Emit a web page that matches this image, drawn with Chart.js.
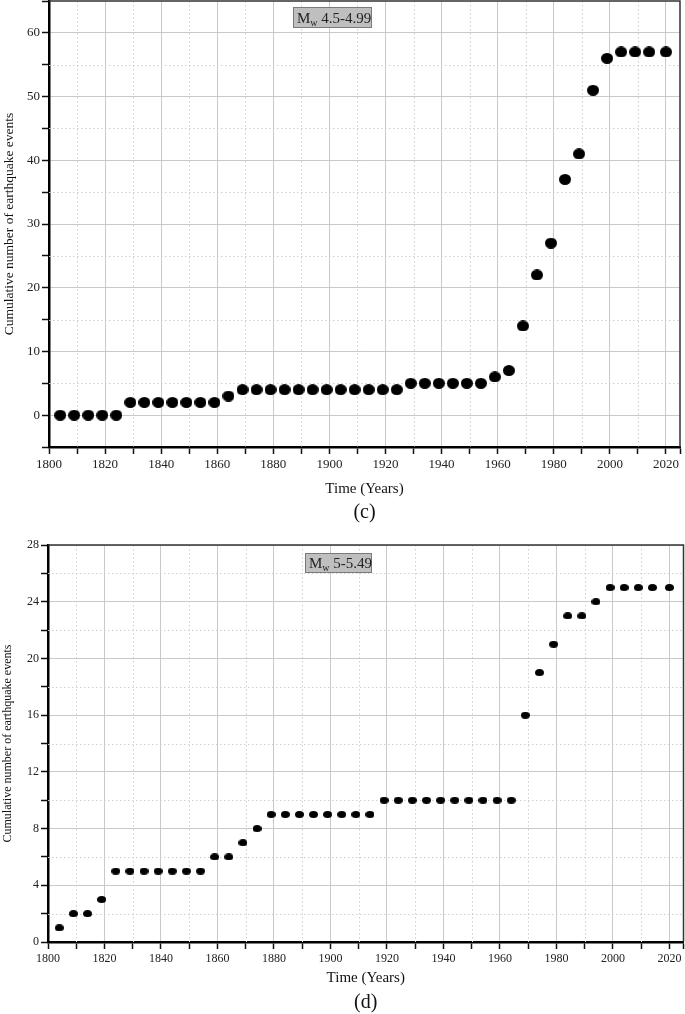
<!DOCTYPE html>
<html>
<head>
<meta charset="utf-8">
<script src="https://cdn.jsdelivr.net/npm/chart.js@4.4.1/dist/chart.umd.min.js"></script>
<style>
  html, body { margin: 0; padding: 0; background: #fff; overflow: hidden; width: 685px; height: 1014px; }
  canvas { position: absolute; left: 0; }
  #chart-c { top: -5px; }
  #chart-d { top: 535px; }
</style>
</head>
<body>
<canvas id="chart-c" width="686" height="535"></canvas>
<canvas id="chart-d" width="688" height="479"></canvas>
<script>
// years of the plotted points (same for both panels)
const years = [1804, 1809, 1814, 1819, 1824, 1829, 1834, 1839, 1844, 1849, 1854, 1859, 1864, 1869, 1874,
  1879, 1884, 1889, 1894, 1899, 1904, 1909, 1914, 1919, 1924, 1929, 1934, 1939, 1944, 1949, 1954,
  1959, 1964, 1969, 1974, 1979, 1984, 1989, 1994, 1999, 2004, 2009, 2014, 2020];

// (c) Mw 4.5-4.99
const eventsC = [0, 0, 0, 0, 0, 2, 2, 2, 2, 2, 2, 2, 3, 4, 4,
  4, 4, 4, 4, 4, 4, 4, 4, 4, 4, 5, 5, 5, 5, 5, 5,
  6, 7, 14, 22, 27, 37, 41, 51, 56, 57, 57, 57, 57];

// (d) Mw 5-5.49
const eventsD = [1, 2, 2, 3, 5, 5, 5, 5, 5, 5, 5, 6, 6, 7, 8,
  9, 9, 9, 9, 9, 9, 9, 9, 10, 10, 10, 10, 10, 10, 10, 10,
  10, 10, 16, 19, 21, 23, 23, 24, 25, 25, 25, 25, 25];

const xTicks = [1800, 1810, 1820, 1830, 1840, 1850, 1860, 1870, 1880, 1890, 1900, 1910,
  1920, 1930, 1940, 1950, 1960, 1970, 1980, 1990, 2000, 2010, 2020, 2025];
const yTicksC = [-5, 0, 5, 10, 15, 20, 25, 30, 35, 40, 45, 50, 55, 60, 65];
const yTicksD = [0, 2, 4, 6, 8, 10, 12, 14, 16, 18, 20, 22, 24, 26, 28];

const SERIF = '"Liberation Serif", "Times New Roman", serif';

function ellipse(w, h) {
  const c = document.createElement('canvas');
  c.width = w; c.height = h;
  const g = c.getContext('2d');
  g.fillStyle = '#000';
  g.beginPath();
  g.ellipse(w / 2, h / 2, w / 2, h / 2, 0, 0, Math.PI * 2);
  g.fill();
  return c;
}

function noPad(s) {
  s.paddingTop = 0; s.paddingBottom = 0; s.paddingLeft = 0; s.paddingRight = 0;
}

// dotted minor grid + thin top/right frame
const minorGrid = {
  id: 'minorGrid',
  beforeDatasetsDraw(chart, args, opts) {
    const { ctx, chartArea: a, scales: { x, y } } = chart;
    ctx.save();
    ctx.strokeStyle = '#cfcfcf';
    ctx.lineWidth = 1;
    ctx.setLineDash([1.5, 2.5]);
    x.ticks.forEach(t => {
      if (t.value % opts.majorX === 0 || t.value <= x.min || t.value >= x.max) return;
      const px = Math.round(x.getPixelForValue(t.value)) + 0.5;
      ctx.beginPath(); ctx.moveTo(px, a.top); ctx.lineTo(px, a.bottom); ctx.stroke();
    });
    y.ticks.forEach(t => {
      if (t.value % opts.majorY === 0 || t.value <= y.min || t.value >= y.max) return;
      const py = Math.round(y.getPixelForValue(t.value)) + 0.5;
      ctx.beginPath(); ctx.moveTo(a.left, py); ctx.lineTo(a.right, py); ctx.stroke();
    });
    ctx.setLineDash([]);
    ctx.strokeStyle = '#333';
    ctx.lineWidth = 1.5;
    ctx.beginPath();
    ctx.moveTo(a.left, a.top); ctx.lineTo(a.right, a.top); ctx.lineTo(a.right, a.bottom);
    ctx.stroke();
    ctx.restore();
  }
};

// grey "Mw ..." label box
const magBox = {
  id: 'magBox',
  afterDatasetsDraw(chart, args, o) {
    const { ctx, chartArea: a } = chart;
    const bx = a.left + o.dx, by = a.top + o.dy;
    ctx.save();
    ctx.fillStyle = '#bfbfbf';
    ctx.fillRect(bx, by, o.w, o.h);
    ctx.strokeStyle = '#7a7a7a';
    ctx.lineWidth = 1;
    ctx.strokeRect(bx + 0.5, by + 0.5, o.w - 1, o.h - 1);
    ctx.fillStyle = '#222';
    ctx.textBaseline = 'alphabetic';
    let tx = bx + 4;
    const base = by + o.h / 2 + 5;
    ctx.font = '15px ' + SERIF;
    ctx.fillText('M', tx, base); tx += ctx.measureText('M').width;
    ctx.font = '10px ' + SERIF;
    ctx.fillText('w', tx, base + 3); tx += ctx.measureText('w').width;
    ctx.font = '15px ' + SERIF;
    ctx.fillText(o.text, tx, base);
    ctx.restore();
  }
};

function buildChart(el, cfg) {
  const majorX = 20;
  return new Chart(el, {
    type: 'scatter',
    data: {
      datasets: [{
        data: years.map((yr, i) => ({ x: yr, y: cfg.values[i] })),
        pointStyle: ellipse(cfg.dot[0], cfg.dot[1]),
        pointRadius: cfg.dot[0] / 2,
        backgroundColor: '#000',
        borderWidth: 0
      }]
    },
    options: {
      responsive: false,
      animation: false,
      layout: { padding: cfg.padding },
      scales: {
        x: {
          type: 'linear',
          min: 1800, max: 2025,
          afterBuildTicks: s => { s.ticks = xTicks.map(v => ({ value: v })); },
          afterFit: s => { s.height = cfg.xHeight; noPad(s); },
          grid: {
            color: c => (c.tick && c.tick.value % majorX === 0 ? '#c9c9c9' : 'rgba(0,0,0,0)'),
            tickColor: '#111',
            tickLength: 7,
            tickWidth: 1.5
          },
          border: { color: '#000', width: 2.5 },
          ticks: {
            padding: 3,
            maxRotation: 0,
            autoSkip: false,
            color: '#222',
            font: { family: SERIF, size: cfg.tickSize },
            callback: v => (v % majorX === 0 && v <= 2020 ? v : '')
          },
          title: {
            display: true,
            text: 'Time (Years)',
            color: '#111',
            font: { family: SERIF, size: 15 },
            padding: { top: 0, bottom: cfg.xTitlePad }
          }
        },
        y: {
          type: 'linear',
          min: cfg.yTicks[0], max: cfg.yTicks[cfg.yTicks.length - 1],
          afterBuildTicks: s => { s.ticks = cfg.yTicks.map(v => ({ value: v })); },
          afterFit: s => { s.width = cfg.yWidth; noPad(s); },
          grid: {
            color: c => (c.tick && c.tick.value % cfg.majorY === 0 && c.tick.value > cfg.yTicks[0] ? '#c9c9c9' : 'rgba(0,0,0,0)'),
            tickColor: '#111',
            tickLength: 7,
            tickWidth: 1.5
          },
          border: { color: '#000', width: 2.5 },
          ticks: {
            padding: 2,
            autoSkip: false,
            color: '#222',
            font: { family: SERIF, size: cfg.tickSize },
            callback: v => (v % cfg.majorY === 0 && v >= 0 && v <= cfg.yLabelMax ? v : '')
          },
          title: {
            display: true,
            text: 'Cumulative number of earthquake events',
            color: '#111',
            font: { family: SERIF, size: cfg.yTitleSize },
            padding: { top: 1, bottom: 0 }
          }
        }
      },
      plugins: {
        legend: { display: false },
        tooltip: { enabled: false },
        title: {
          display: true,
          position: 'bottom',
          fullSize: false,
          text: cfg.panel,
          color: '#111',
          font: { family: SERIF, size: 20, weight: 'normal', lineHeight: 1 },
          padding: { top: cfg.panelPad, bottom: 0 }
        },
        minorGrid: { majorX, majorY: cfg.majorY },
        magBox: cfg.box
      }
    },
    plugins: [minorGrid, magBox]
  });
}

buildChart(document.getElementById('chart-c'), {
  values: eventsC,
  yTicks: yTicksC,
  majorY: 10,
  yLabelMax: 60,
  dot: [12, 11],
  padding: { top: 1, right: 5, bottom: 7, left: 0 },
  xHeight: 54,
  yWidth: 49,
  tickSize: 13,
  yTitleSize: 13.5,
  xTitlePad: 3,
  panel: '(c)',
  panelPad: 2,
  box: { dx: 244, dy: 6, w: 79, h: 21, text: ' 4.5-4.99' }
});

buildChart(document.getElementById('chart-d'), {
  values: eventsD,
  yTicks: yTicksD,
  majorY: 4,
  yLabelMax: 28,
  dot: [9, 7],
  padding: { top: 10, right: 2, bottom: 1, left: 0 },
  xHeight: 50,
  yWidth: 48,
  tickSize: 12,
  yTitleSize: 12,
  xTitlePad: 5,
  panel: '(d)',
  panelPad: 1,
  box: { dx: 257, dy: 8, w: 67, h: 20, text: ' 5-5.49' }
});
</script>
</body>
</html>
